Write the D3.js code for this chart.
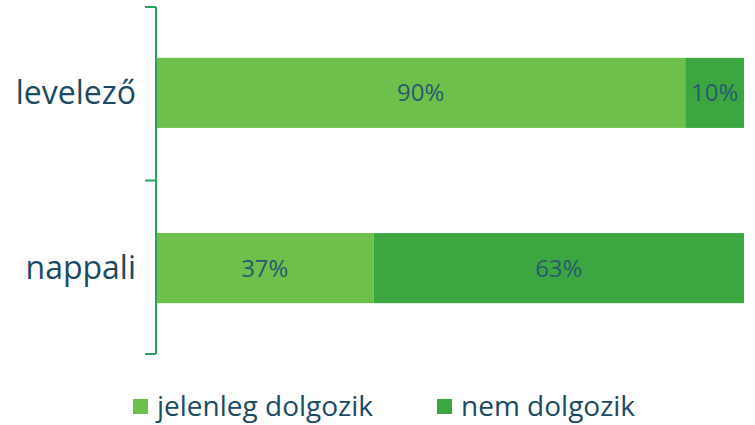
<!DOCTYPE html>
<html>
<head>
<meta charset="utf-8">
<script src="https://cdn.jsdelivr.net/npm/d3@7"></script>
<style>
  body { margin: 0; background: #fff; }
  svg text { font-family: "Open Sans", sans-serif; }
</style>
</head>
<body>
<div id="chart"></div>
<script>
// adatok
var categories = ["levelező", "nappali"];
var seriesNames = ["jelenleg dolgozik", "nem dolgozik"];
var working = [90, 37];
var notWorking = [10, 63];
var colors = ["#6dc04b", "#3ca641"];

var width = 755, height = 425;
var svg = d3.select("#chart").append("svg")
    .attr("width", width)
    .attr("height", height);

var x = d3.scaleLinear().domain([0, 100]).range([156, 744]);
var y = d3.scaleBand().domain(categories).range([7, 354])
    .paddingInner(0.6).paddingOuter(0.29);

var rows = categories.map(function (c, i) {
    return { cat: c, vals: [working[i], notWorking[i]] };
});

// bars
rows.forEach(function (r) {
    var start = 0;
    r.vals.forEach(function (v, j) {
        svg.append("rect")
            .attr("x", x(start))
            .attr("y", y(r.cat))
            .attr("width", x(start + v) - x(start))
            .attr("height", y.bandwidth())
            .attr("fill", colors[j]);
        svg.append("text")
            .attr("x", (x(start) + x(start + v)) / 2)
            .attr("y", y(r.cat) + y.bandwidth() / 2)
            .attr("dy", "0.35em")
            .attr("text-anchor", "middle")
            .attr("font-size", 24)
            .attr("fill", "#2a5a6e")
            .text(v + "%");
        start += v;
    });
});

// y axis with ticks between the categories
var r0 = y.range()[0], r1 = y.range()[1];
var tickPos = [r0, (r0 + r1) / 2, r1];
svg.append("line")
    .attr("x1", 156).attr("x2", 156)
    .attr("y1", r0).attr("y2", r1)
    .attr("stroke", "#2aa35a").attr("stroke-width", 2);
svg.selectAll(".tick").data(tickPos).enter()
    .append("line")
    .attr("x1", 145).attr("x2", 156)
    .attr("y1", function (d) { return d; })
    .attr("y2", function (d) { return d; })
    .attr("stroke", "#2aa35a").attr("stroke-width", 2);

svg.selectAll(".cat").data(categories).enter()
    .append("text")
    .attr("x", 136)
    .attr("y", function (d) { return y(d) + y.bandwidth() / 2; })
    .attr("dy", "0.35em")
    .attr("text-anchor", "end")
    .attr("font-size", 32)
    .attr("fill", "#1c4a63")
    .text(function (d) { return d; });

// legend
var legendX = [133, 437];
seriesNames.forEach(function (s, i) {
    svg.append("rect")
        .attr("x", legendX[i]).attr("y", 399)
        .attr("width", 15).attr("height", 15)
        .attr("fill", colors[i]);
    svg.append("text")
        .attr("x", legendX[i] + 24).attr("y", 406)
        .attr("dy", "0.35em")
        .attr("font-size", 28)
        .attr("fill", "#1c4a63")
        .text(s);
});
</script>
</body>
</html>
